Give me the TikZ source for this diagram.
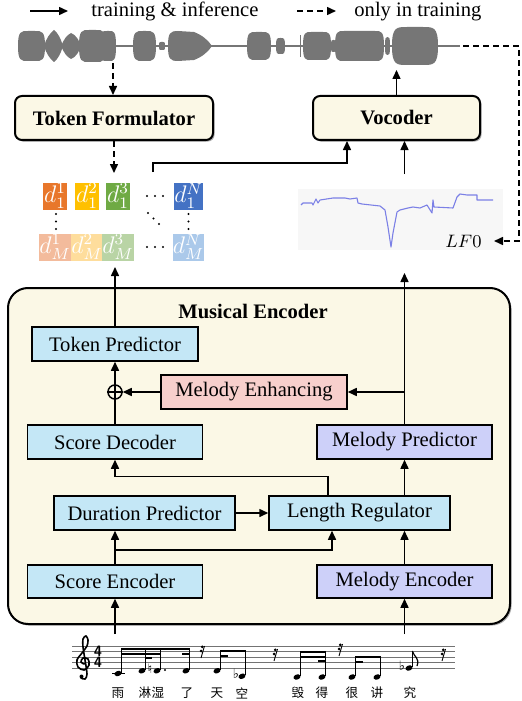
\documentclass[tikz,border=0pt]{standalone}
\usepackage{fontspec}
\setmainfont{Liberation Serif}
\newfontfamily\cjk{Noto Sans CJK SC}
\newfontfamily\dejavu{DejaVu Sans}
\usetikzlibrary{arrows.meta,shadows,calc}
\definecolor{cream}{HTML}{FBF8E6}
\definecolor{boxblue}{HTML}{C4E7F6}
\definecolor{boxlav}{HTML}{CDD0F9}
\definecolor{boxpink}{HTML}{F7CFCC}
\definecolor{wavegray}{HTML}{767676}
\definecolor{fzeroblue}{HTML}{7B80E6}
\definecolor{cOr}{HTML}{E8772B}
\definecolor{cYe}{HTML}{FFC000}
\definecolor{cGr}{HTML}{6FAA44}
\definecolor{cBl}{HTML}{4472C4}
\definecolor{lOr}{HTML}{F3BB9C}
\definecolor{lYe}{HTML}{FEDD9C}
\definecolor{lGr}{HTML}{B9D4A5}
\definecolor{lBl}{HTML}{ABC9EA}
% blob: x1 x2 halfheight cornerreach
\newcommand\wblob[4]{%
  \fill[wavegray] (#1,46) .. controls (#1,{46-#3}) and ({#1+0.3*#4},{46-#3}) .. ({#1+#4},{46-#3}) -- ({#2-#4},{46-#3})
   .. controls ({#2-0.3*#4},{46-#3}) and (#2,{46-#3}) .. (#2,46) .. controls (#2,{46+#3}) and ({#2-0.3*#4},{46+#3}) .. ({#2-#4},{46+#3})
   -- ({#1+#4},{46+#3}) .. controls ({#1+0.3*#4},{46+#3}) and (#1,{46+#3}) .. (#1,46) -- cycle;}
\newcommand\nhead[2]{\fill[rotate around={20:(#1,#2)}] (#1,#2) ellipse [x radius=1.8pt, y radius=1.3pt];}
\newcommand\nstem[3]{\draw[line width=0.4pt] ({#1+3.3},{#2-1}) -- ({#1+3.3},#3);}
\newcommand\nbeam[3]{\fill ({#1+2.9},#3) rectangle ({#2+3.6},{#3+2.2});}
\newcommand\srest[2]{%
  \draw[line width=0.45pt] ({#1+2.5},{#2-6}) -- ({#1-1},{#2+6});
  \fill ({#1+0.3},{#2-5.2}) circle [radius=0.75pt];
  \fill ({#1-0.8},{#2-1}) circle [radius=0.75pt];}
\begin{document}
\begin{tikzpicture}[x=0.5pt,y=-0.5pt,
  lbl/.style={font=\fontsize{10.3}{12}\selectfont},
  arr/.style={-{Triangle[length=4.5pt,width=4pt]}, line width=0.75pt},
  darr/.style={arr, dash pattern=on 3pt off 2pt},
  plainline/.style={line width=0.75pt},
  bigbox/.style={draw, line width=1pt, rounded corners=3.5pt, fill=cream, inner sep=0pt,
     drop shadow={shadow xshift=0.8pt, shadow yshift=-0.8pt, fill=black!55, opacity=0.6}},
  sbox/.style={draw, line width=0.75pt, inner sep=0pt, lbl, minimum height=17pt},
  cell/.style={minimum width=12pt, minimum height=13.5pt, inner sep=0pt, text=white, font=\fontsize{11.5}{11.5}\selectfont},
  lyr/.style={font=\cjk\fontsize{6.3}{7}\selectfont, inner sep=0pt},
  acc/.style={font=\dejavu\fontsize{6.5}{7}\selectfont, inner sep=0pt}
]
\useasboundingbox (0,0) rectangle (521,701);

% ---------- legend ----------
\coordinate (la1) at (30,11); \coordinate (la2) at (68,11);
\draw[arr] (la1) -- (la2);
\node[lbl, anchor=base west, inner sep=0pt] (lt1) at (91,17) {training \& inference};
\coordinate (lb1) at (297,11); \coordinate (lb2) at (336,11);
\draw[darr] (lb1) -- (lb2);
\node[lbl, anchor=base west, inner sep=0pt] (lt2) at (354,17) {only in training};

% ---------- waveform ----------
\draw[wavegray, line width=0.8pt] (18,46) -- (460,46);
\wblob{18}{45}{15}{10}
\fill[wavegray] (44,46) .. controls (46,39) and (50,33) .. (54,30) .. controls (58,33) and (61,39) .. (63,46)
   .. controls (61,53) and (58,59) .. (54,62) .. controls (50,59) and (46,53) .. (44,46) -- cycle;
\fill[wavegray] (61,46) .. controls (64,39) and (67,35) .. (71,33) .. controls (76,35) and (79,40) .. (81,46)
   .. controls (79,52) and (76,57) .. (71,59) .. controls (67,57) and (64,53) .. (61,46) -- cycle;
\wblob{79}{106}{16}{10}
\wblob{100}{116}{15}{7}
\wblob{133}{156}{15}{10}
\wblob{159}{165}{4}{2}
\fill[wavegray] (168,46) .. controls (168,33) and (170,31) .. (178,31) -- (194,32)
   .. controls (202,35) and (208,40) .. (212,46) .. controls (208,52) and (202,57) .. (194,60)
   -- (178,61) .. controls (170,61) and (168,59) .. (168,46) -- cycle;
\wblob{247}{271}{14}{9}
\wblob{276}{285}{8}{4}
\fill[wavegray] (299.5,35) rectangle (301,57);
\wblob{303}{331}{14}{8}
\wblob{331}{336}{6}{2}
\wblob{335}{384}{15}{9}
\wblob{385}{390}{9}{2.5}
\wblob{392}{438}{19}{15}
\draw[wavegray, line width=1.3pt] (438,46) -- (460,46);
\coordinate (wv1) at (113,63);
\coordinate (wv2) at (397,70);
\coordinate (wvend) at (463,46);

% ---------- top boxes ----------
\node[bigbox, lbl, minimum width=99pt, minimum height=22pt] (TF) at (114,118) {\bfseries Token Formulator};
\node[bigbox, lbl, minimum width=83.5pt, minimum height=22pt] (VC) at (396.5,118) {\bfseries Vocoder};

% ---------- token grid ----------
\node[cell, fill=cOr] (g11) at (55,196) {$d_1^1$};
\node[cell, fill=cYe] (g12) at (87,196) {$d_1^2$};
\node[cell, fill=cGr] (g13) at (118,196) {$d_1^3$};
\node[cell, fill=cBl] (g1N) at (188.5,196) {$d_1^N$};
\node[cell, fill=lOr] (gM1) at (55,247) {$d_M^1$};
\node[cell, fill=lYe] (gM2) at (87,247) {$d_M^2$};
\node[cell, fill=lGr] (gM3) at (118,247) {$d_M^3$};
\node[cell, fill=lBl] (gMN) at (188.5,247) {$d_M^N$};
\foreach \xx in {147,155,163} {\fill (\xx,196) circle [radius=0.6pt]; \fill (\xx,247) circle [radius=0.6pt];}
\foreach \yy in {214,221.5,229} {\fill (56,\yy) circle [radius=0.6pt]; \fill (188.5,\yy) circle [radius=0.6pt];}
\foreach \dd in {0,1,2} {\fill ({148+5.5*\dd},{213+5.5*\dd}) circle [radius=0.6pt];}
\coordinate (gtopin) at (113,173);
\coordinate (gout) at (153,172);
\coordinate (gbot) at (115,267);

% ---------- LF0 plot ----------
\fill[gray!6] (298,189) rectangle (503,250);
\draw[fzeroblue, line width=0.55pt, line join=round] plot coordinates {
 (301,205) (303,203) (312,203) (313,205) (316,199) (318,203) (320,200) (333,198) (345,198)
 (350,199) (357,198) (358,203) (362,204) (380,206) (385,210) (388,227) (391,247) (393,233)
 (397,212) (400,210) (408,208) (413,207) (420,208) (427,205) (432,213) (433,200) (434,207)
 (453,208) (457,197) (460,194) (467,195) (477,195) (477,200) (493,200)};
\node[anchor=east, inner xsep=6pt, inner ysep=1pt, font=\fontsize{9.5}{10}\selectfont] (LF) at (494,241) {$LF0$};
\coordinate (lftop) at (404.5,174);
\coordinate (lfbot) at (404.5,273);

% ---------- musical encoder ----------
\node[bigbox, rounded corners=10pt, minimum width=251pt, minimum height=168pt] (ME) at (259,456) {};
\node[lbl, font=\fontsize{10.3}{12}\selectfont\bfseries] (MEt) at (253,311) {Musical Encoder};
\node[sbox, fill=boxblue, minimum width=83pt] (TP) at (115,344) {Token Predictor};
\node[sbox, fill=boxpink, minimum width=93pt] (MH) at (254,392) {Melody Enhancing};
\node[sbox, fill=boxblue, minimum width=87.5pt] (SD) at (115,442) {Score Decoder};
\node[sbox, fill=boxlav, minimum width=87.5pt] (MP) at (404.5,442) {Melody Predictor};
\node[sbox, fill=boxblue, minimum width=90.5pt] (DP) at (144.5,513) {Duration Predictor};
\node[sbox, fill=boxblue, minimum width=90.5pt] (LR) at (359.5,513) {Length Regulator};
\node[sbox, fill=boxblue, minimum width=87.5pt, minimum height=16.5pt] (SE) at (115,581.5) {Score Encoder};
\node[sbox, fill=boxlav, minimum width=87.5pt, minimum height=16.5pt] (MEn) at (404.5,581.5) {Melody Encoder};
\node[circle, draw, line width=0.75pt, minimum size=7pt, inner sep=0pt] (op) at (115,392) {};
\draw[line width=0.75pt] (op.north) -- (op.south) (op.west) -- (op.east);

% ---------- connectors ----------
\draw[darr] (wv1) -- (wv1 |- TF.north);
\draw[darr] (TF.south) -- (TF.south |- gtopin);
\draw[arr] (VC.north) -- (VC.north |- wv2);
\draw[arr] (gout) -- (153,163) -| ([xshift=-24.75pt]VC.south);
\draw[arr] (lftop) -- (lftop |- VC.south);
\draw[darr] (wvend) -- (519,46) |- (LF.east);
\draw[arr] (TP.north) -- (gbot);
\draw[arr] (MP.north) -- (lfbot);
\draw[arr] (MP.north |- MH.east) -- (MH.east);
\draw[plainline] (SD.north) -- (op.south);
\draw[arr] (op.north) -- (TP.south);
\draw[arr] (MH.west) -- (op.east);
\draw[arr] ([xshift=-15.75pt]LR.north) -- ++(0,-19) -| (SD.south);
\draw[arr] (LR.north -| MP.south) -- (MP.south);
\draw[arr] (DP.east) -- (LR.west);
\draw[arr] (SE.north) -- (SE.north |- DP.south);
\coordinate (br) at (115,550);
\draw[arr] (br) -| ([xshift=-13.75pt]LR.south);
\draw[arr] (MEn.north) -- (MEn.north |- LR.south);
\coordinate (sc1) at (115,634);
\coordinate (sc2) at (404.5,634);
\draw[arr] (sc1) -- (SE.south);
\draw[arr] (sc2) -- (MEn.south);

% ---------- score ----------
\foreach \i in {0,...,4} \draw[black!55, line width=0.35pt] (72,{646+5.5*\i}) -- (455,{646+5.5*\i});
% treble clef
\draw[line width=0.8pt, line cap=round] plot[smooth, tension=0.55] coordinates {
 (84,664) (81,662) (83,658) (88,659) (89,665) (84,670) (78,667) (77,660) (82,653) (87,646)
 (88,640) (86,636) (83,639) (83,647) (85,660) (87,674) (85,679) (81,678)};
\fill (81.5,676.5) circle [radius=1pt];
\node[font=\sffamily\bfseries\fontsize{7.5}{7.5}\selectfont, inner sep=0pt] (ts1) at (98,651.5) {4};
\node[font=\sffamily\bfseries\fontsize{7.5}{7.5}\selectfont, inner sep=0pt] (ts2) at (98,662.5) {4};
% group 1
\draw[line width=0.4pt] (112,673.5) -- (125,673.5);
\nhead{118}{673.5} \nstem{118}{673.5}{648}
\nhead{142}{670.75} \nstem{142}{670.75}{648}
\node[acc] (nat) at (150,669) {♮};
\nhead{157}{670.75} \nstem{157}{670.75}{648}
\fill (165,670) circle [radius=0.6pt];
\nhead{186}{670.75} \nstem{186}{670.75}{648}
\nbeam{118}{186}{648}
\nbeam{118}{157}{652.5}
\nbeam{179}{186}{652.5}
\nbeam{142}{148}{656.5}
\srest{202}{652}
% group 2
\nhead{217}{670.75} \nstem{217}{670.75}{650}
\node[acc] (fl1) at (236,674) {♭};
\nhead{242}{676.25} \nstem{242}{676.25}{650}
\nbeam{217}{242}{650}
\nbeam{217}{224}{654.5}
\srest{275}{655}
% group 3
\nhead{297}{677} \nstem{297}{677}{651}
\nhead{322}{677} \nstem{322}{677}{651}
\nbeam{297}{322}{651}
\nbeam{297}{322}{655.5}
\nbeam{315}{322}{660}
\srest{340}{650}
% group 4
\nhead{352}{677} \nstem{352}{677}{656}
\nhead{377}{677} \nstem{377}{677}{656}
\nbeam{352}{377}{656}
\nbeam{352}{359}{660.5}
% single e-flat
\node[acc] (fl2) at (402,666) {♭};
\nhead{409}{668} \nstem{409}{668}{651}
\draw[line width=0.6pt] (412.3,651) .. controls (414,657) and (420,658) .. (417,666);
\srest{443}{655}
% lyrics
\node[lyr] (l1) at (118,693) {雨};
\node[lyr] (l2) at (145,693) {淋};
\node[lyr] (l3) at (158,693) {湿};
\node[lyr] (l4) at (187,693) {了};
\node[lyr] (l5) at (217,693) {天};
\node[lyr] (l6) at (242,693) {空};
\node[lyr] (l7) at (298,693) {毁};
\node[lyr] (l8) at (322,693) {得};
\node[lyr] (l9) at (352,693) {很};
\node[lyr] (l10) at (377,693) {讲};
\node[lyr] (l11) at (410,693) {究};
\end{tikzpicture}
\end{document}
